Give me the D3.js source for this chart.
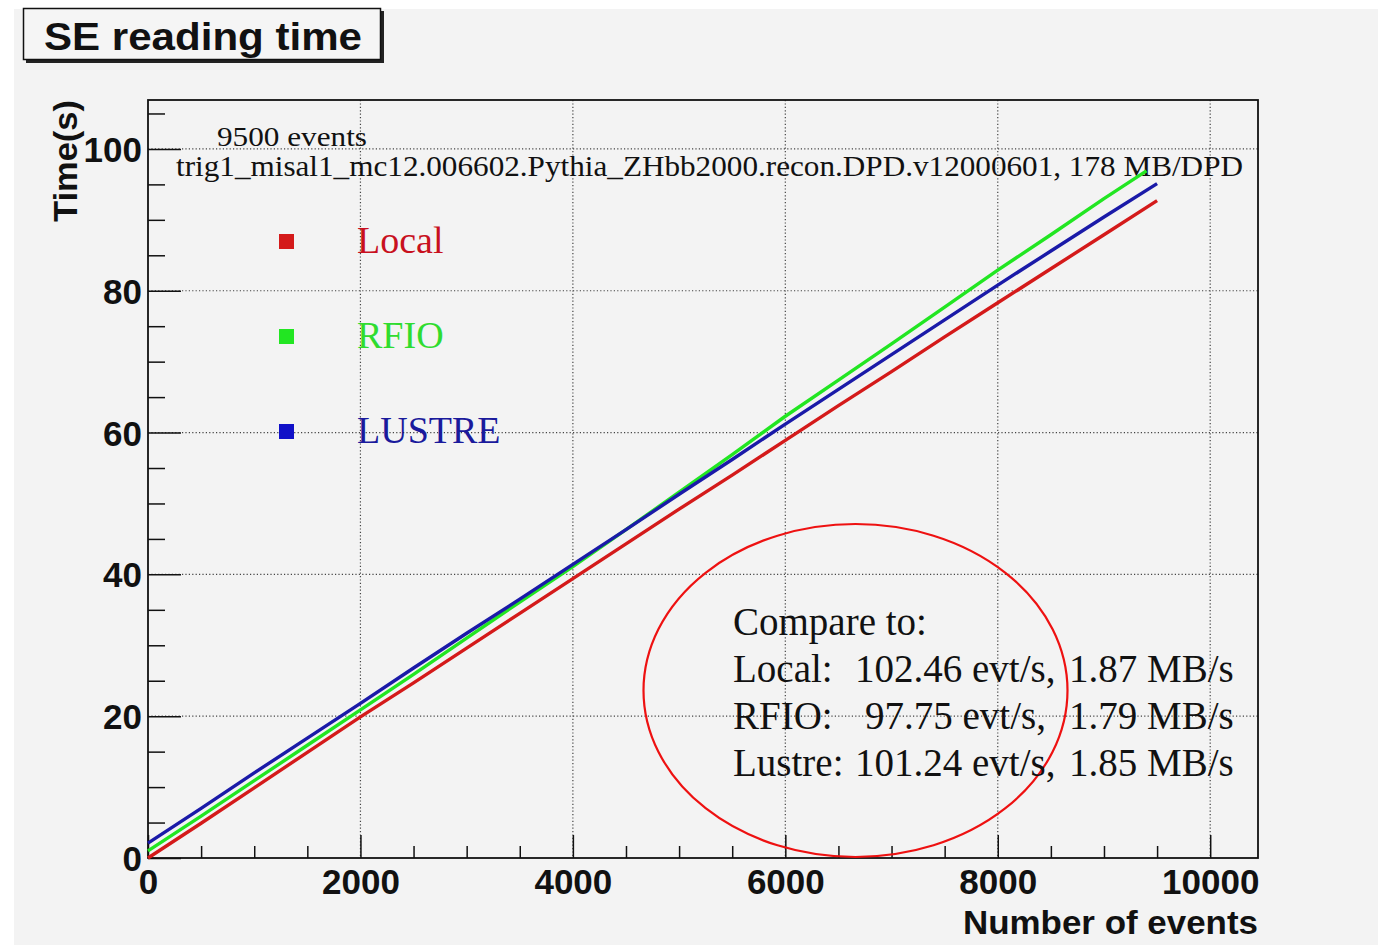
<!DOCTYPE html>
<html>
<head>
<meta charset="utf-8">
<script src="https://cdn.jsdelivr.net/npm/d3@7/dist/d3.min.js"></script>
<style>
  html, body { margin: 0; padding: 0; background: #ffffff; }
  svg { display: block; }
</style>
</head>
<body>
<svg id="chart" width="1378" height="947"></svg>
<script>
// ---------- data ----------
const events = [0,500,1000,1500,2000,2500,3000,3500,4000,4500,5000,5500,6000,6500,7000,7500,8000,8500,9000,9500];
const localTime  = [0,4.9,9.9,14.9,19.9,24.7,29.6,34.5,39.4,44.3,49.2,54.0,58.9,63.8,68.6,73.5,78.3,83.1,87.9,92.7];
const lustreTime = [2.1,7.0,12.0,16.9,21.8,26.8,31.7,36.5,41.4,46.3,51.3,56.2,61.2,66.1,71.0,75.9,80.8,85.6,90.4,95.1];
const rfioEvents = [0,500,1000,1500,2000,2500,3000,3500,4000,4500,5000,5500,6000,6500,7000,7500,8000,8500,9000,9400];
const rfioTime   = [1.0,5.9,10.9,15.9,20.9,25.9,31.0,36.1,41.1,46.3,51.6,56.9,62.3,67.4,72.5,77.7,82.9,87.9,93.0,96.9];

const xMajorTicks = [0,2000,4000,6000,8000,10000];
const yMajorTicks = [0,20,40,60,80,100];
const legendLabels = ["Local","RFIO","LUSTRE"];
const compareHeader = "Compare to:";
const compareNames  = ["Local:","RFIO:","Lustre:"];
const compareRates  = ["102.46 evt/s,","97.75 evt/s,","101.24 evt/s,"];
const compareMB     = ["1.87 MB/s","1.79 MB/s","1.85 MB/s"];
const titleText = "SE reading time";
const infoLine1 = "9500 events";
const infoLine2 = "trig1_misal1_mc12.006602.Pythia_ZHbb2000.recon.DPD.v12000601, 178 MB/DPD";

// ---------- layout ----------
const svg = d3.select("#chart");
const L = 148, R = 1258, T = 100, B = 858;
const colors = { local: "#d41a1a", rfio: "#22e622", lustre: "#1a1aa8" };
const textColors = ["#c8101e", "#2fdc2f", "#1a1a9c"];
const sans = "'Liberation Sans', Arial, Helvetica, sans-serif";
const serif = "'Liberation Serif', 'Times New Roman', Times, serif";

const x = d3.scaleLinear().domain([0, 10450]).range([L, R]);
const y = d3.scaleLinear().domain([0, 106.9]).range([B, T]);

// background
svg.append("rect").attr("x", 14).attr("y", 9).attr("width", 1378 - 14).attr("height", 945 - 9)
  .attr("fill", "#f3f3f3");

// title box
svg.append("rect").attr("x", 26).attr("y", 11).attr("width", 358).attr("height", 52)
  .attr("fill", "#222");
svg.append("rect").attr("x", 23.5).attr("y", 8.5).attr("width", 357).attr("height", 51)
  .attr("fill", "#f5f5f5").attr("stroke", "#111").attr("stroke-width", 1.5);
svg.append("text").attr("x", 44).attr("y", 50)
  .attr("font-family", sans).attr("font-weight", "bold").attr("font-size", 38)
  .attr("textLength", 318).attr("lengthAdjust", "spacingAndGlyphs")
  .attr("fill", "#111").text(titleText);

// grid lines
const grid = svg.append("g").attr("stroke", "#444").attr("stroke-width", 1.2)
  .attr("stroke-dasharray", "1.2,2.2");
grid.selectAll(".gx").data(xMajorTicks.filter(d => d > 0)).enter().append("line")
  .attr("x1", d => x(d)).attr("x2", d => x(d)).attr("y1", T).attr("y2", B);
grid.selectAll(".gy").data(yMajorTicks.filter(d => d > 0)).enter().append("line")
  .attr("x1", L).attr("x2", R).attr("y1", d => y(d)).attr("y2", d => y(d));

// minor ticks
const xMinor = d3.range(0, 10450, 500).filter(d => d % 2000 !== 0);
const yMinor = d3.range(0, 106.9, 5).filter(d => d % 20 !== 0);
svg.append("g").attr("transform", `translate(0,${B})`)
  .call(d3.axisBottom(x).tickValues(xMinor).tickSize(-12).tickFormat(""))
  .call(g => g.select(".domain").remove())
  .call(g => g.selectAll("line").attr("stroke", "#111").attr("stroke-width", 1.5));
svg.append("g").attr("transform", `translate(${L},0)`)
  .call(d3.axisLeft(y).tickValues(yMinor).tickSize(-17).tickFormat(""))
  .call(g => g.select(".domain").remove())
  .call(g => g.selectAll("line").attr("stroke", "#111").attr("stroke-width", 1.5));

// major axes
const xAxis = svg.append("g").attr("transform", `translate(0,${B})`)
  .call(d3.axisBottom(x).tickValues(xMajorTicks).tickSize(-23).tickPadding(11).tickFormat(d3.format("d")));
xAxis.select(".domain").remove();
xAxis.selectAll("line").attr("stroke", "#111").attr("stroke-width", 1.5);
xAxis.selectAll("text").attr("font-family", sans).attr("font-weight", "bold")
  .attr("font-size", 35).attr("fill", "#111");

const yAxis = svg.append("g").attr("transform", `translate(${L},0)`)
  .call(d3.axisLeft(y).tickValues(yMajorTicks).tickSize(-33).tickPadding(6).tickFormat(d3.format("d")));
yAxis.select(".domain").remove();
yAxis.selectAll("line").attr("stroke", "#111").attr("stroke-width", 1.5);
yAxis.selectAll("text").attr("font-family", sans).attr("font-weight", "bold")
  .attr("font-size", 35).attr("fill", "#111").attr("dy", "0.36em");

// frame
svg.append("rect").attr("x", L).attr("y", T).attr("width", R - L).attr("height", B - T)
  .attr("fill", "none").attr("stroke", "#111").attr("stroke-width", 1.8);

// axis titles
svg.append("text").attr("x", R).attr("y", 934).attr("text-anchor", "end")
  .attr("font-family", sans).attr("font-weight", "bold").attr("font-size", 33)
  .attr("textLength", 295).attr("lengthAdjust", "spacingAndGlyphs")
  .attr("fill", "#111").text("Number of events");
svg.append("text").attr("transform", `translate(77,${T}) rotate(-90)`).attr("text-anchor", "end")
  .attr("font-family", sans).attr("font-weight", "bold").attr("font-size", 33)
  .attr("textLength", 122).attr("lengthAdjust", "spacingAndGlyphs")
  .attr("fill", "#111").text("Time(s)");

// info text
svg.append("text").attr("x", 217).attr("y", 146)
  .attr("font-family", serif).attr("font-size", 28)
  .attr("textLength", 150).attr("lengthAdjust", "spacingAndGlyphs")
  .attr("fill", "#111").text(infoLine1);
svg.append("text").attr("x", 176).attr("y", 176)
  .attr("font-family", serif).attr("font-size", 29)
  .attr("textLength", 1067).attr("lengthAdjust", "spacingAndGlyphs")
  .attr("fill", "#111").text(infoLine2);

// data lines
const line = d3.line().x(d => x(d[0])).y(d => y(d[1]));
const series = [
  { pts: d3.zip(events, localTime), color: colors.local },
  { pts: d3.zip(rfioEvents, rfioTime), color: colors.rfio },
  { pts: d3.zip(events, lustreTime), color: colors.lustre }
];
svg.append("g").selectAll("path").data(series).enter().append("path")
  .attr("d", d => line(d.pts)).attr("fill", "none")
  .attr("stroke", d => d.color).attr("stroke-width", 3.4).attr("stroke-linejoin", "round");

// legend
const legY = [241, 336, 431];
const legColors = [colors.local, colors.rfio, "#1010c8"];
legendLabels.forEach((lab, i) => {
  svg.append("rect").attr("x", 279).attr("y", legY[i] - 7).attr("width", 15).attr("height", 15)
    .attr("fill", legColors[i]);
  svg.append("text").attr("x", 357).attr("y", legY[i] + 12)
    .attr("font-family", serif).attr("font-size", 38).attr("fill", textColors[i]).text(lab);
});

// compare annotation
svg.append("ellipse").attr("cx", 855.5).attr("cy", 690.5).attr("rx", 212).attr("ry", 166.5)
  .attr("fill", "none").attr("stroke", "#ee1111").attr("stroke-width", 2.2);
svg.append("text").attr("x", 733).attr("y", 635)
  .attr("font-family", serif).attr("font-size", 39).attr("fill", "#111").text(compareHeader);
const cmpY = [682, 729, 776];
const rateX = [855, 865, 855];
compareNames.forEach((nm, i) => {
  svg.append("text").attr("x", 733).attr("y", cmpY[i])
    .attr("font-family", serif).attr("font-size", 39).attr("fill", "#111").text(nm);
  svg.append("text").attr("x", rateX[i]).attr("y", cmpY[i])
    .attr("font-family", serif).attr("font-size", 39).attr("fill", "#111").text(compareRates[i]);
  svg.append("text").attr("x", 1069).attr("y", cmpY[i])
    .attr("font-family", serif).attr("font-size", 39).attr("fill", "#111").text(compareMB[i]);
});
</script>
</body>
</html>
